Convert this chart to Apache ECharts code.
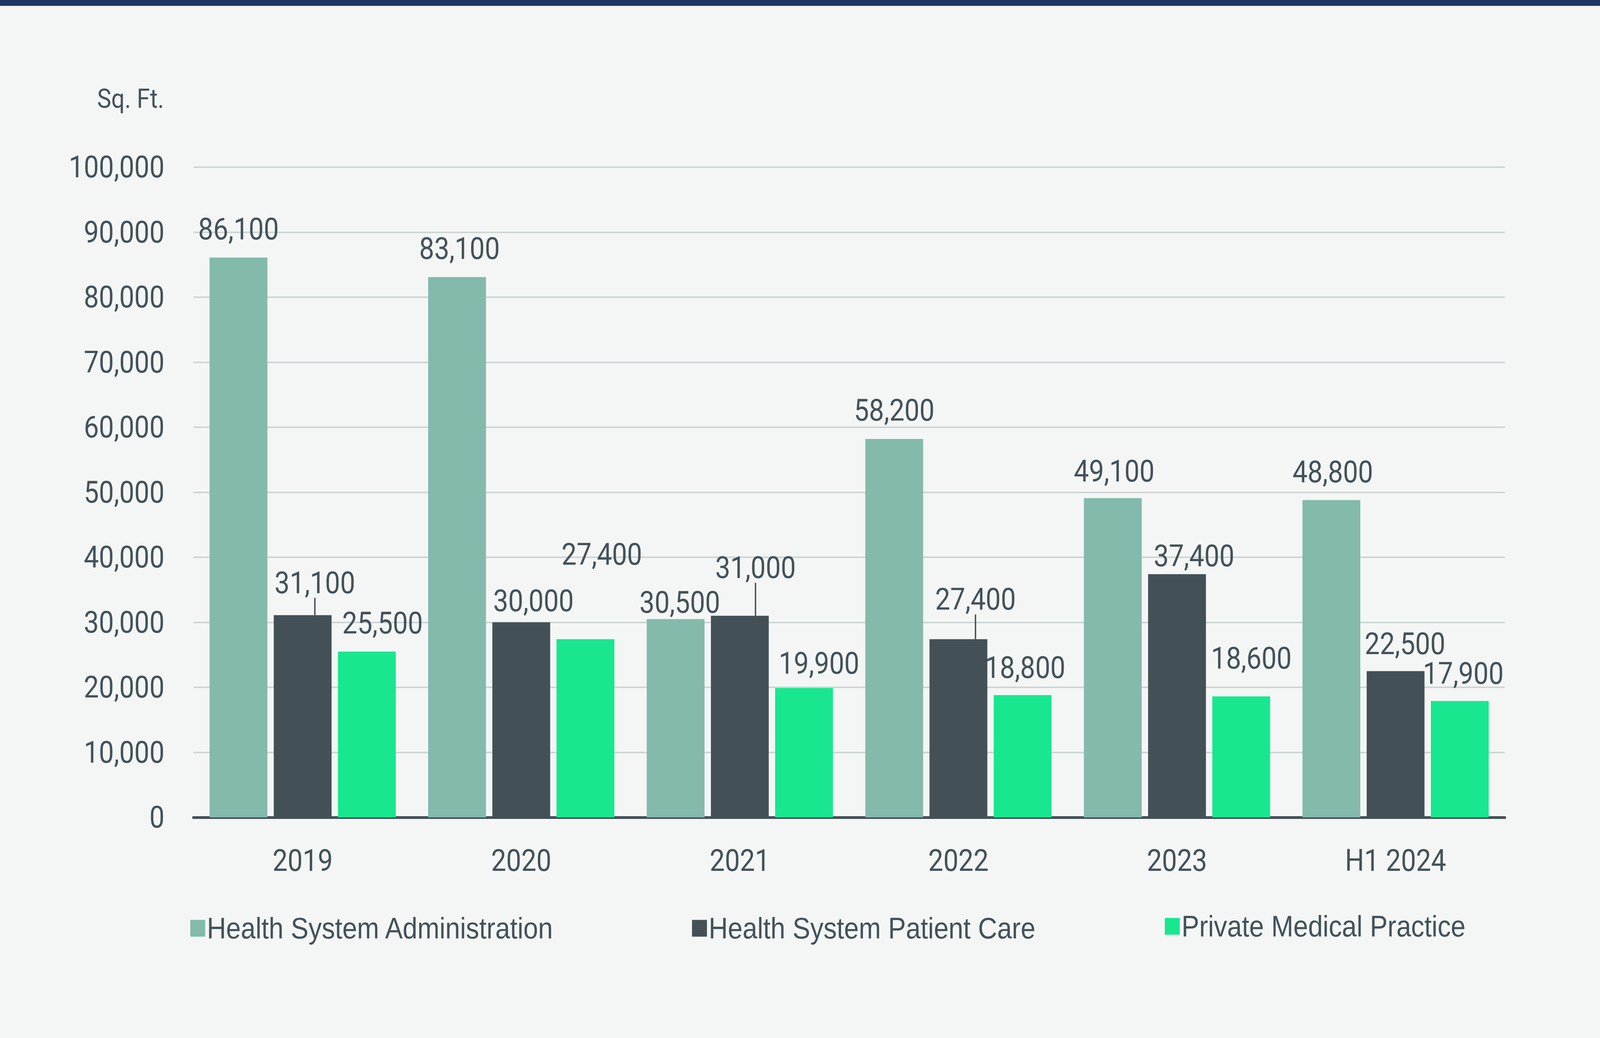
<!DOCTYPE html>
<html>
<head>
<meta charset="utf-8">
<script src="https://cdn.jsdelivr.net/npm/echarts@6/dist/echarts.min.js"></script>
<style>
  html, body { margin: 0; padding: 0; background: #F4F6F5; overflow: hidden; }
  #chart { width: 4592px; height: 2658px; transform-origin: 0 0; }
</style>
</head>
<body>
<div id="chart"></div>
<script>
// ---- data ----
const categories = ['2019', '2020', '2021', '2022', '2023', 'H1 2024'];
const seriesNames = ['Health System Administration', 'Health System Patient Care', 'Private Medical Practice'];
const adminValues = [86100, 83100, 30500, 58200, 49100, 48800];
const patientCareValues = [31100, 30000, 31000, 27400, 37400, 22500];
const privatePracticeValues = [25500, 27400, 19900, 18800, 18600, 17900];
const yTicks = [0, 10000, 20000, 30000, 40000, 50000, 60000, 70000, 80000, 90000, 100000];

// ---- label placement (styling, kept separate from data) ----
const adminLabelShift = [[0, 0], [7, 0], [12, 30], [0, 0], [4, 4], [4, 1]];
const patientLabelShift = [[35, -10], [35, 18], [45, -50], [49, -29], [49, 26], [27, 3]];
const privateLabelShift = [[45, 0], [47, -144], [43, 10], [7, 3], [29, -25], [10, 3]];
const patientLeader = [true, false, true, true, false, false];

const TEXT = '#43525A';
const NUM_FONT = 'Roboto';
const fmt = v => Number(v).toLocaleString('en-US');

// fit the 4592x2658 design into whatever viewport the browser actually has
const el = document.getElementById('chart');
const sx = (window.innerWidth || 4592) / 4592;
const sy = (window.innerHeight || 2658) / 2658;
if (Math.abs(sx - 1) > 0.001 || Math.abs(sy - 1) > 0.001) {
  el.style.transform = 'scale(' + sx + ',' + sy + ')';
}

function makeData(values, leaders) {
  return values.map((v, i) => leaders && leaders[i]
    ? { value: v, labelLine: { show: true, lineStyle: { color: TEXT, width: 4 } } }
    : { value: v });
}

const labelBase = {
  show: true, position: 'top', distance: 35,
  color: TEXT, fontFamily: NUM_FONT, fontSize: 77, lineHeight: 76,
  formatter: p => fmt(p.value)
};

const chart = echarts.init(el, null, { renderer: 'svg', width: 4592, height: 2658 });
chart.setOption({
  backgroundColor: '#F4F6F5',
  animation: false,
  graphic: [{
    type: 'rect', left: 0, top: 0, shape: { width: 4592, height: 15 },
    style: { fill: '#1F3562' }
  }],
  title: {
    text: 'Sq. Ft.', left: 274, top: 210,
    textStyle: { fontFamily: NUM_FONT, fontSize: 68, fontWeight: 'normal', color: TEXT, lineHeight: 76 }
  },
  grid: { left: 555, right: 273, top: 428, bottom: 565, containLabel: false },
  legend: [
    { data: [seriesNames[0]], left: 546, top: 2339 },
    { data: [seriesNames[1]], left: 1986, top: 2339 },
    { data: [seriesNames[2]], left: 3343, top: 2334 }
  ].map(l => Object.assign(l, {
    orient: 'horizontal', padding: 0, itemWidth: 43, itemHeight: 43, icon: 'rect',
    textStyle: { fontFamily: 'Liberation Sans', fontSize: 76, color: TEXT, lineHeight: 76 }
  })),
  xAxis: {
    type: 'category', data: categories,
    axisLine: { show: true, lineStyle: { color: '#435156', width: 7 } },
    axisTick: { show: false },
    axisLabel: { color: TEXT, fontFamily: NUM_FONT, fontSize: 77, margin: 72 }
  },
  yAxis: {
    type: 'value', min: yTicks[0], max: yTicks[yTicks.length - 1], interval: yTicks[1] - yTicks[0],
    axisLine: { show: false }, axisTick: { show: false },
    axisLabel: { color: TEXT, fontFamily: NUM_FONT, fontSize: 77, margin: 83, formatter: v => fmt(v) },
    splitLine: { lineStyle: { color: '#CDD5D5', width: 4 } }
  },
  series: [
    {
      name: seriesNames[0], type: 'bar', data: makeData(adminValues),
      barWidth: 166, barGap: '11%', itemStyle: { color: '#83BAAC' },
      label: labelBase,
      labelLayout: p => ({ dx: adminLabelShift[p.dataIndex][0], dy: adminLabelShift[p.dataIndex][1] })
    },
    {
      name: seriesNames[1], type: 'bar', data: makeData(patientCareValues, patientLeader),
      barWidth: 166, barGap: '11%', itemStyle: { color: '#435156' },
      label: labelBase,
      labelLine: { show: false, lineStyle: { color: TEXT, width: 4 } },
      labelLayout: p => ({ dx: patientLabelShift[p.dataIndex][0], dy: patientLabelShift[p.dataIndex][1] })
    },
    {
      name: seriesNames[2], type: 'bar', data: makeData(privatePracticeValues),
      barWidth: 166, barGap: '11%', itemStyle: { color: '#18E78F' },
      label: labelBase,
      labelLayout: p => ({ dx: privateLabelShift[p.dataIndex][0], dy: privateLabelShift[p.dataIndex][1] })
    }
  ]
});
</script>
</body>
</html>
